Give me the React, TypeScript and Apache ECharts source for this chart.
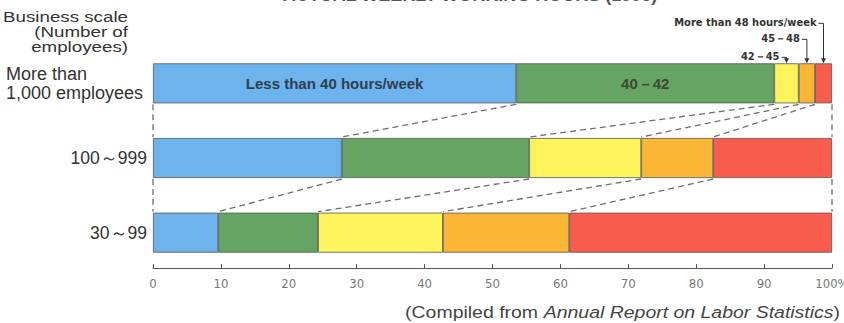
import React, { useEffect, useRef } from "react";
import * as echarts from "echarts";

// Business scale rows (top to bottom)
const categories = ["More than\n1,000 employees", "100～999", "30～99"];

// Weekly working hour bands
const hourBands = [
  "Less than 40 hours/week",
  "40－42",
  "42－45",
  "45－48",
  "More than 48 hours/week",
];

// Share of workers (%) per band, one value per business scale row
const under40 = [53.5, 27.8, 9.6];
const h40to42 = [38.0, 27.6, 14.7];
const h42to45 = [3.6, 16.5, 18.4];
const h45to48 = [2.4, 10.6, 18.6];
const over48 = [2.5, 17.5, 38.7];

const bandValues = [under40, h40to42, h42to45, h45to48, over48];
const bandColors = ["#6db4ef", "#66a464", "#fdf45c", "#fbb636", "#f85c4c"];

const FONT = "'Liberation Sans', Arial, sans-serif";
const NARROW = "'Liberation Sans Narrow', 'DejaVu Sans Condensed', 'Liberation Sans', sans-serif";
const BAR_W = 40;

// Cumulative boundaries of each row: 0, end of band 1, ..., 100
const bounds = categories.map((_, r) => {
  const out = [0];
  bandValues.forEach((vals) => out.push(out[out.length - 1] + vals[r]));
  return out;
});

// Dashed connectors: [x at lower edge of row r, r, x at upper edge of row r+1]
const connectors: number[][] = [];
for (let r = 0; r < categories.length - 1; r++) {
  for (let k = 0; k < bounds[r].length; k++) {
    connectors.push([bounds[r][k], r, bounds[r + 1][k]]);
  }
}

// Callouts for the three narrow bands of the top row: [centre x, row, band index]
const calloutBands = [2, 3, 4];
const callouts = calloutBands.map((k) => [
  bounds[0][k] + bandValues[k][0] / 2,
  0,
  k,
]);
const calloutRise: Record<number, number> = { 2: 6, 3: 24, 4: 40 };

export default function App() {
  const ref = useRef<HTMLDivElement>(null);

  useEffect(() => {
    if (!ref.current) return;
    const chart = echarts.init(ref.current, undefined, { renderer: "svg" });

    const barSeries = bandValues.map((vals, k) => ({
      type: "bar",
      name: hourBands[k],
      stack: "total",
      barWidth: BAR_W,
      itemStyle: { color: bandColors[k], borderColor: "#555", borderWidth: 0.8 },
      data: vals.map((v, r) => {
        if (r === 0 && (k === 0 || k === 1)) {
          return {
            value: v,
            label: {
              show: true,
              position: "inside",
              formatter: hourBands[k],
              fontFamily: FONT,
              fontWeight: "bold",
              fontSize: 15,
              color: k === 0 ? "#2f3e4e" : "#3a4a38",
            },
          };
        }
        return v;
      }),
    }));

    chart.setOption({
      animation: false,
      grid: {
        left: 153,
        right: 12,
        top: 46,
        height: 224,
        containLabel: false,
        outerBoundsMode: "none",
      },
      xAxis: {
        type: "value",
        min: 0,
        max: 100,
        interval: 10,
        offset: -2,
        splitLine: { show: false },
        axisLine: { show: true, lineStyle: { color: "#555", width: 1 } },
        axisTick: { show: true, inside: true, length: 4, lineStyle: { color: "#555" } },
        axisLabel: {
          color: "#777",
          fontFamily: NARROW,
          fontSize: 13,
          margin: 9,
          formatter: (v: number) => (v === 100 ? "100%" : String(v)),
        },
      },
      yAxis: {
        type: "category",
        inverse: true,
        data: categories,
        axisLine: { show: false },
        axisTick: { show: false },
        axisLabel: {
          margin: 6,
          color: "#333",
          fontFamily: FONT,
          fontSize: 17.5,
          lineHeight: 19,
          formatter: (v: string) =>
            v.indexOf("\n") >= 0
              ? v.split("\n").map((s) => `{w|${s}}`).join("\n")
              : v,
          rich: {
            w: {
              width: 141,
              align: "left",
              fontFamily: FONT,
              fontSize: 18,
              lineHeight: 19,
              color: "#333",
            },
          },
        },
      },
      series: [
        ...barSeries,
        {
          type: "custom",
          silent: true,
          z: 1,
          encode: { x: [0, 2], y: 1 },
          data: connectors,
          renderItem: (_params: any, api: any) => {
            const p1 = api.coord([api.value(0), api.value(1)]);
            const p2 = api.coord([api.value(2), api.value(1) + 1]);
            return {
              type: "line",
              shape: {
                x1: p1[0],
                y1: p1[1] + BAR_W / 2 + 1,
                x2: p2[0],
                y2: p2[1] - BAR_W / 2 - 1,
              },
              style: { stroke: "#6f6f6f", lineWidth: 1.3, lineDash: [6, 4] },
            };
          },
        },
        {
          type: "custom",
          silent: true,
          z: 5,
          clip: false,
          encode: { x: 0, y: 1 },
          data: callouts,
          renderItem: (_params: any, api: any) => {
            const k = api.value(2);
            const p = api.coord([api.value(0), api.value(1)]);
            const x = p[0];
            const top = p[1] - BAR_W / 2;
            const ly = top - calloutRise[k];
            return {
              type: "group",
              children: [
                {
                  type: "polyline",
                  shape: { points: [[x - 5, ly], [x, ly], [x, top - 4]] },
                  style: { stroke: "#333", lineWidth: 1, fill: null },
                },
                {
                  type: "polygon",
                  shape: { points: [[x - 2.5, top - 5], [x + 2.5, top - 5], [x, top]] },
                  style: { fill: "#333" },
                },
                {
                  type: "text",
                  x: x - 7,
                  y: ly - 1,
                  style: {
                    text: hourBands[k],
                    align: "right",
                    verticalAlign: "middle",
                    fontFamily: NARROW,
                    fontWeight: "bold",
                    fontSize: 11,
                    fill: "#333",
                  },
                },
              ],
            };
          },
        },
      ],
      graphic: [
        {
          type: "text",
          x: 470,
          y: -14,
          style: {
            text: "ACTUAL WEEKLY WORKING HOURS (1995)",
            align: "center",
            verticalAlign: "top",
            fontFamily: FONT,
            fontWeight: "bold",
            fontSize: 18,
            fill: "#555",
          },
        },
        {
          type: "text",
          x: 128,
          y: 10,
          scaleX: 1.25,
          style: {
            text: "Business scale\n(Number of\nemployees)",
            align: "right",
            verticalAlign: "top",
            fontFamily: FONT,
            fontSize: 15,
            lineHeight: 15,
            fill: "#333",
          },
        },
        {
          type: "text",
          x: 840,
          y: 313,
          scaleX: 1.18,
          style: {
            text: "{n|(Compiled from }{i|Annual Report on Labor Statistics}{n|)}",
            align: "right",
            verticalAlign: "middle",
            rich: {
              n: { fontFamily: FONT, fontSize: 16.5, fill: "#444", color: "#444" },
              i: {
                fontFamily: FONT,
                fontSize: 16.5,
                fontStyle: "italic",
                fill: "#444",
                color: "#444",
              },
            },
          },
        },
      ],
    });

    return () => chart.dispose();
  }, []);

  return (
    <div
      ref={ref}
      style={{ position: "fixed", left: 0, top: 0, width: 844, height: 323, background: "#fff" }}
    />
  );
}
